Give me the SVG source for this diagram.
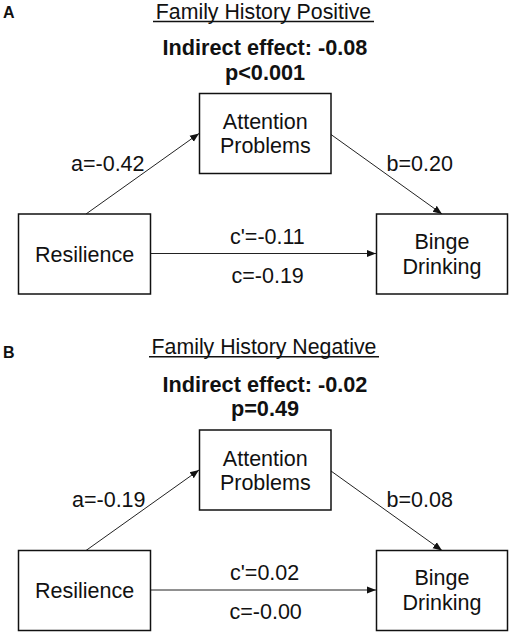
<svg xmlns="http://www.w3.org/2000/svg" width="510" height="633" viewBox="0 0 510 633">
<defs>
<marker id="ah" viewBox="0 0 10 10" refX="10" refY="5" markerWidth="9" markerHeight="9" markerUnits="userSpaceOnUse" orient="auto">
<path d="M0,1 L10,5 L0,9 Z" fill="#111"/>
</marker>
<style>
text{font-family:"Liberation Sans",Arial,sans-serif;fill:#111;}
.t{font-size:21.3px;text-anchor:middle;}
.b{font-size:21.7px;font-weight:bold;text-anchor:middle;}
.n{font-size:21.5px;text-anchor:middle;}
.lbl{font-size:21.5px;text-anchor:start;}
.pl{font-size:16px;font-weight:bold;}
rect{fill:#fff;stroke:#111;stroke-width:1.5;}
.c{stroke:#222;stroke-width:1;fill:none;marker-end:url(#ah);}
.u{stroke:#111;stroke-width:1.5;}
</style>
</defs>
<g id="panelA">
<text class="pl" x="3" y="18">A</text>
<g id="titleA"><text class="t" x="263.5" y="19.4">Family History Positive</text><line class="u" x1="153" y1="21.5" x2="374" y2="21.5"/></g>
<text class="b" x="265" y="55">Indirect effect: -0.08</text>
<text class="b" x="265" y="79.5">p&lt;0.001</text>
<g id="connA">
<line class="c" x1="86" y1="214" x2="199" y2="133.5"/>
<line class="c" x1="331" y1="134.5" x2="442" y2="214"/>
<line class="c" x1="151" y1="253.5" x2="376" y2="253.5"/>
<text class="lbl" x="71" y="170.5">a=-0.42</text>
<text class="lbl" x="386.5" y="170.5">b=0.20</text>
<text class="lbl" x="230" y="243.5">c'=-0.11</text>
<text class="lbl" x="231.5" y="282.5">c=-0.19</text>
</g>
<g id="attA"><rect x="199.5" y="93.5" width="131.5" height="80"/><text class="n" x="265.3" y="129.3">Attention</text><text class="n" x="265.3" y="153.3">Problems</text></g>
<g id="resA"><rect x="18.5" y="214" width="132" height="80"/><text class="n" x="84.5" y="261.7">Resilience</text></g>
<g id="bingeA"><rect x="376.5" y="214" width="131" height="80"/><text class="n" x="442" y="248.5">Binge</text><text class="n" x="442" y="273.5">Drinking</text></g>
</g>
<g id="panelB">
<text class="pl" x="3" y="358">B</text>
<g id="titleB"><text class="t" x="264" y="353.6">Family History Negative</text><line class="u" x1="149" y1="356.7" x2="379" y2="356.7"/></g>
<text class="b" x="265" y="391.7">Indirect effect: -0.02</text>
<text class="b" x="265" y="416.2">p=0.49</text>
<g id="connB">
<line class="c" x1="86" y1="550.5" x2="199" y2="470"/>
<line class="c" x1="331" y1="471" x2="442" y2="550.5"/>
<line class="c" x1="151" y1="590" x2="376" y2="590"/>
<text class="lbl" x="72" y="507">a=-0.19</text>
<text class="lbl" x="386.5" y="507">b=0.08</text>
<text class="lbl" x="230" y="580">c'=0.02</text>
<text class="lbl" x="229.5" y="619">c=-0.00</text>
</g>
<g id="attB"><rect x="199.5" y="430" width="131.5" height="80"/><text class="n" x="265.3" y="465.8">Attention</text><text class="n" x="265.3" y="489.8">Problems</text></g>
<g id="resB"><rect x="18.5" y="550.5" width="132" height="80"/><text class="n" x="84.5" y="598.2">Resilience</text></g>
<g id="bingeB"><rect x="376.5" y="550.5" width="131" height="80"/><text class="n" x="442" y="585">Binge</text><text class="n" x="442" y="610">Drinking</text></g>
</g>
</svg>
